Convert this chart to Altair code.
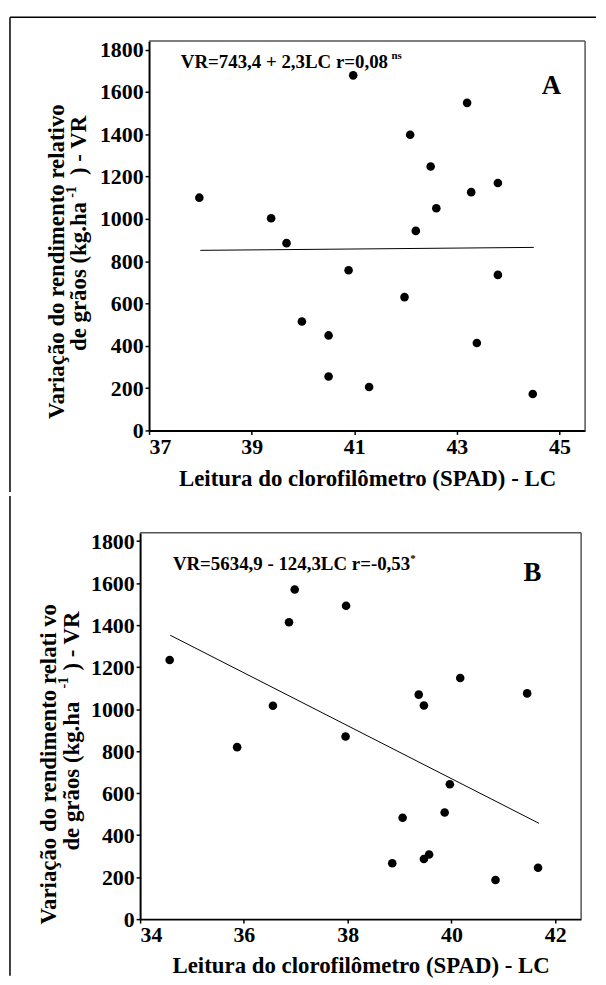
import altair as alt
import pandas as pd

FONT = "Liberation Serif"

# ---------------- data ----------------
Y_TICKS = [0, 200, 400, 600, 800, 1000, 1200, 1400, 1600, 1800]
Y_DOMAIN = [0, 1840]

A_X_TICKS = [37, 39, 41, 43, 45]
A_X_DOMAIN = [37, 45.5]
a_lc = [37.98, 39.38, 39.68, 39.98, 40.50, 40.50, 40.89, 40.98, 41.29, 41.98,
        42.09, 42.20, 42.49, 42.60, 43.20, 43.28, 43.39, 43.80, 43.80, 44.48]
a_vr = [1100, 1003, 885, 515, 449, 255, 757, 1678, 205, 630,
        1397, 943, 1247, 1050, 1548, 1126, 413, 1169, 735, 172]
a_fit_lc = [38.0, 44.5]
a_fit_vr = [851, 865]

B_X_TICKS = [34, 36, 38, 40, 42]
B_X_DOMAIN = [34, 42.5]
b_lc = [34.57, 35.87, 36.56, 36.87, 36.98, 37.97, 37.96, 38.86, 39.06, 39.37,
        39.47, 39.47, 39.57, 39.87, 39.97, 40.17, 40.85, 41.46, 41.67]
b_vr = [1234, 819, 1016, 1414, 1570, 1492, 870, 266, 483, 1069,
        1017, 286, 308, 508, 642, 1148, 186, 1075, 245]
b_fit_lc = [34.58, 41.69]
b_fit_vr = [1352, 456]

X_TITLE = "Leitura do clorofilômetro (SPAD) - LC"
A_Y_LINE1 = "Variação do rendimento relativo"
B_Y_LINE1 = "Variação do rendimento relati vo"
Y_LINE2_START = "de grãos  (kg.ha"
Y_LINE2_SUP = "-1"
Y_LINE2_END = ") - VR"
A_EQ = "VR=743,4 + 2,3LC  r=0,08"
A_EQ_SUP = "ns"
B_EQ = "VR=5634,9 - 124,3LC r=-0,53"
B_EQ_SUP = "*"
A_LETTER = "A"
B_LETTER = "B"

FRAME = "#555555"


def txt(s, x, y, size, angle=None, align="center", baseline="middle"):
    kw = dict(font=FONT, fontWeight="bold", fontSize=size, align=align,
              baseline=baseline, color="black")
    if angle is not None:
        kw["angle"] = angle
    return alt.Chart(pd.DataFrame({"t": [s]})).mark_text(**kw).encode(
        text="t:N", x=alt.value(x), y=alt.value(y))


def vrule(x, y1, y2, color="black"):
    return alt.Chart(pd.DataFrame({"d": [0]})).mark_rule(
        color=color, strokeWidth=1.5).encode(
        x=alt.value(x), y=alt.value(y1), y2=alt.value(y2))


def hrule(x1, x2, y, color="black"):
    return alt.Chart(pd.DataFrame({"d": [0]})).mark_rule(
        color=color, strokeWidth=1.5).encode(
        x=alt.value(x1), x2=alt.value(x2), y=alt.value(y))


def panel(lc, vr, fit_lc, fit_vr, xdom, xticks, x0, w, h, title_y, extra):
    """x0: left inset of the plot area inside the panel group."""
    pts = pd.DataFrame({"LC": lc, "VR": vr})
    fit = pd.DataFrame({"LC": fit_lc, "VR": fit_vr})
    x = alt.X("LC:Q",
              scale=alt.Scale(domain=xdom, nice=False, zero=False, range=[x0, x0 + w]),
              axis=alt.Axis(values=xticks, title=X_TITLE, titleY=title_y,
                            titleBaseline="middle", labelPadding=2, format="d"))
    y = alt.Y("VR:Q", scale=alt.Scale(domain=Y_DOMAIN, nice=False),
              axis=alt.Axis(values=Y_TICKS, title=None, labelPadding=2, format="d",
                            offset=-x0))
    dots = alt.Chart(pts).mark_circle(size=75, color="black", opacity=1).encode(x=x, y=y)
    line = alt.Chart(fit).mark_line(color="black", strokeWidth=1).encode(
        x="LC:Q", y="VR:Q")
    frame = [hrule(x0, x0 + w, 0, FRAME), vrule(x0 + w, 0, h, FRAME)]
    return alt.layer(*frame, line, dots, *extra).properties(width=x0 + w, height=h)


# Panel A (plot area 439 x 392, starting 9 px right of panel B's)
a_extra = [
    txt(A_Y_LINE1, -84, 222, 23, angle=270),
    txt(Y_LINE2_END, -61, 105, 23, angle=270),
    txt(Y_LINE2_SUP, -69, 152, 14, angle=270),
    txt(Y_LINE2_START, -61, 237, 23, angle=270),
    txt(A_EQ, 41, 21, 19, align="left"),
    txt(A_EQ_SUP, 253, 15, 11, align="left"),
    txt(A_LETTER, 414, 45, 27),
    hrule(-131, 459, -24),
    vrule(-131, -24, 454),
]
chart_a = panel(a_lc, a_vr, a_fit_lc, a_fit_vr, A_X_DOMAIN, A_X_TICKS, 9, 439, 392, 48, a_extra)

# Panel B (plot area 444 x 389)
b_extra = [
    txt(B_Y_LINE1, -92, 233, 23, angle=270),
    txt(Y_LINE2_END, -69, 109, 23, angle=270),
    txt(Y_LINE2_SUP, -77, 151, 14, angle=270),
    txt(Y_LINE2_START, -69, 245, 23, angle=270),
    txt(B_EQ, 33, 32, 19, align="left"),
    txt(B_EQ_SUP, 272, 26, 11, align="left"),
    txt(B_LETTER, 395, 41, 27),
    vrule(-131, -37, 446),
]
chart_b = panel(b_lc, b_vr, b_fit_lc, b_fit_vr, B_X_DOMAIN, B_X_TICKS, 0, 444, 389, 47, b_extra)

chart = alt.vconcat(chart_a, chart_b, spacing=0).properties(
    padding={"left": 0, "top": 4, "right": 0, "bottom": 0}
).configure_view(
    stroke="transparent"
).configure_axis(
    grid=False,
    domainColor="black", domainWidth=2,
    tickColor="black", tickSize=4, tickWidth=1.5,
    labelFont=FONT, labelFontSize=22, labelFontWeight="bold", labelColor="black",
    titleFont=FONT, titleFontSize=23, titleFontWeight="bold", titleColor="black",
)

chart.save("out.html", embed_options={"renderer": "svg", "actions": False})
